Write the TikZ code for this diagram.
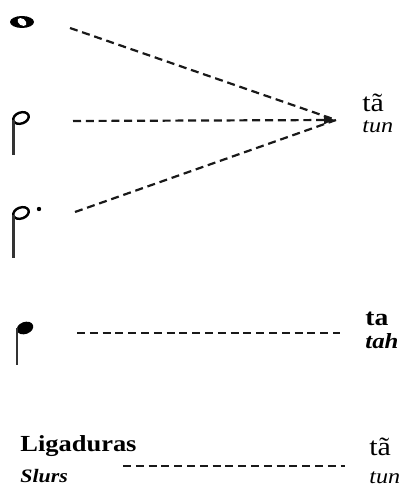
\documentclass[tikz,border=0pt]{standalone}
\usepackage{fontspec}
\setmainfont{Liberation Serif}[FakeStretch=1.15]
\usetikzlibrary{arrows.meta, positioning}
\tikzset{
  dashL/.style={dash pattern=on 4pt off 2.4pt, line width=1.1pt, black!90},
  dashA/.style={dashL, -{Latex[length=6pt,width=4.5pt]}},
  noteStem/.style={line width=1.1pt, black!80},
  sylPt/.style={anchor=base west, inner sep=0pt, font=\fontsize{13}{14}\selectfont},
  sylEn/.style={anchor=base west, inner sep=0pt, font=\fontsize{10.5}{12}\selectfont\itshape},
}

\begin{document}
\begin{tikzpicture}[x=0.5pt, y=-0.5pt]
    \useasboundingbox (0,0) rectangle (401,486);
    % figuras
    \fill (22,22) ellipse [x radius=12, y radius=6];
    \fill[white, rotate around={-35:(22,22)}] (22,22) ellipse [x radius=5, y radius=3.3];
    \draw[line width=1.2pt, rotate around={20:(21,118)}] (21,118) ellipse [x radius=8, y radius=5.5];
    \draw[noteStem] (13.5,120) -- (13.5,155);
    \draw[line width=1.2pt, rotate around={20:(21,213)}] (21,213) ellipse [x radius=8, y radius=5.5];
    \draw[noteStem] (13.5,215) -- (13.5,258);
    \fill (39,209) circle (2.2);
    \fill[rotate around={20:(25,328)}] (25,328) ellipse [x radius=8.5, y radius=6];
    \draw[noteStem] (17,328) -- (17,365);
    \coordinate (sWhole) at (70,28);
    \coordinate (sHalf) at (73,121);
    \coordinate (sDot) at (75,212);
    \coordinate (apex) at (336,120);
    \coordinate (sQuart) at (77,333);
    \coordinate (eQuart) at (340,333);
    \coordinate (sLig) at (123,466);
    \coordinate (eLig) at (345,466);
    \node[sylPt] (tan1) at (362,112) {tã};
    \node[sylEn] (tun1) at (362,133) {tun};
    \node[sylPt, font=\fontsize{12}{14}\selectfont\bfseries] (ta) at (365,325) {ta};
    \node[sylEn, font=\fontsize{10.8}{12}\selectfont\bfseries\itshape] (tah) at (365,348) {tah};
    \node[sylPt, font=\fontsize{11.5}{14}\selectfont\bfseries] (lig) at (20,451) {Ligaduras};
    \node[sylPt, font=\fontsize{9.5}{12}\selectfont\bfseries\itshape] (slurs) at (20,482) {Slurs};
    \node[sylPt] (tan2) at (369,455) {tã};
    \node[sylEn] (tun2) at (369,483) {tun};
    \draw[dashL] (sWhole) -- (apex);
    \draw[dashA] (sHalf) -- (apex);
    \draw[dashL] (sDot) -- (apex);
    \draw[dashL] (sQuart) -- (eQuart);
    \draw[dashL] (sLig) -- (eLig);
\end{tikzpicture}
\end{document}
